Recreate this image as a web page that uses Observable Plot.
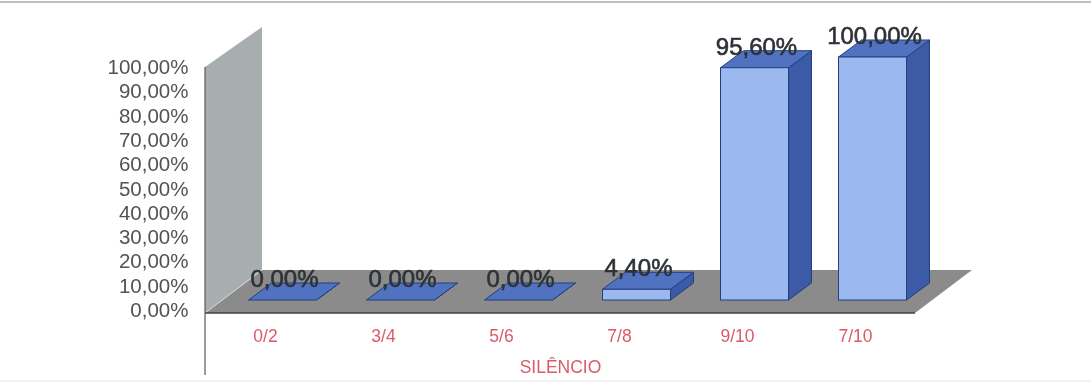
<!DOCTYPE html>
<html>
<head>
<meta charset="utf-8">
<script src="https://cdn.jsdelivr.net/npm/d3@7"></script>
<script src="https://cdn.jsdelivr.net/npm/@observablehq/plot@0.6"></script>
<style>
  html, body { margin: 0; padding: 0; background: #fff; }
  svg { display: block; filter: blur(0.45px); }
</style>
</head>
<body>
<div id="chart"></div>
<script>
const categories = ["0/2", "3/4", "5/6", "7/8", "9/10", "7/10"];
const percentages = [0, 0, 0, 4.4, 95.6, 100];
const yTicks = [0, 10, 20, 30, 40, 50, 60, 70, 80, 90, 100];
const axisTitle = "SILÊNCIO";

const rows = categories.map((category, i) => ({category, value: percentages[i]}));
const pct = (v) => v.toFixed(2).replace(".", ",") + "%";

const style = {
  wall: "#a8adaf", floor: "#8b8b8b", front: "#9bb9ee", top: "#5072c0",
  side: "#3c5aa6", edge: "#22407f", axis: "#5a5a5a", tick: "#dc5a68",
  barShift: 17.5, barDX: 23, barDY: -17,
  wallDX: 57, wallDY: -43, frontDrop: 13
};

function polygon(parent, pts, fill, stroke, width) {
  parent.append("polygon")
    .attr("points", pts.map((p) => p.join(",")).join(" "))
    .attr("fill", fill)
    .attr("stroke", stroke ?? "none")
    .attr("stroke-width", width ?? 1);
}

// Back wall and floor of the 3D box, placed from the y scale and the frame.
function renderBox(index, scales, values, dims) {
  const g = d3.create("svg:g");
  const x0 = dims.marginLeft, x1 = dims.width - dims.marginRight;
  const yTop = scales.y(100), yBase = scales.y(0) + style.frontDrop;
  const {wallDX: dx, wallDY: dy} = style;
  g.append("line").attr("x1", 0).attr("x2", dims.width).attr("y1", 2).attr("y2", 2)
    .attr("stroke", "#a9a9a9").attr("stroke-width", 1.5);
  g.append("line").attr("x1", 0).attr("x2", dims.width).attr("y1", dims.height - 2).attr("y2", dims.height - 2)
    .attr("stroke", "#e6e6e6").attr("stroke-width", 1);
  polygon(g, [[x0, yTop + 10], [x0 + dx, yTop - 30], [x0 + dx, yBase + dy], [x0, yBase]], style.wall);
  polygon(g, [[x0, yBase], [x0 + dx, yBase + dy], [x1 + dx, yBase + dy], [x1, yBase]], style.floor);
  g.append("line").attr("x1", x0).attr("x2", x0 + dx).attr("y1", yBase).attr("y2", yBase + dy)
    .attr("stroke", "#d8dadb").attr("stroke-width", 1);
  g.append("line").attr("x1", x0).attr("x2", x1).attr("y1", yBase).attr("y2", yBase)
    .attr("stroke", "#3f423f").attr("stroke-width", 1.5);
  g.append("line").attr("x1", x0).attr("x2", x0).attr("y1", yTop + 10).attr("y2", yBase + 62)
    .attr("stroke", style.axis).attr("stroke-width", 1.2);
  return g.node();
}

// Side and top faces of each bar, from the same scales as the front face.
function renderFaces(index, scales, values) {
  const g = d3.create("svg:g");
  const {barDX: dx, barDY: dy, barShift: s} = style;
  const w = scales.x.bandwidth();
  for (const i of index) {
    const l = values.x[i] + s, r = l + w;
    const t = Math.min(values.y1[i], values.y2[i]);
    const b = Math.max(values.y1[i], values.y2[i]);
    polygon(g, [[r, t], [r + dx, t + dy], [r + dx, b + dy], [r, b]], style.side, style.edge);
    polygon(g, [[l, t], [l + dx, t + dy], [r + dx, t + dy], [r, t]], style.top, style.edge);
    if (b - t > 0.5) {
      g.append("rect").attr("x", l).attr("y", t).attr("width", r - l).attr("height", b - t)
        .attr("fill", style.front).attr("stroke", style.edge);
    }
  }
  return g.node();
}

const chart = Plot.plot({
  width: 1091,
  height: 383,
  marginLeft: 205,
  marginRight: 176,
  marginTop: 57,
  marginBottom: 83,
  style: {fontFamily: "'Liberation Sans', Arial, sans-serif", background: "transparent", overflow: "visible"},
  x: {domain: categories, paddingInner: 0.425, paddingOuter: 0.2125, label: null},
  y: {domain: [0, 100], label: null},
  marks: [
    Plot.barY(rows.slice(0, 1), {x: "category", y: "value", render: renderBox}),
    Plot.axisY({
      ticks: yTicks, tickFormat: pct, tickSize: 0, tickPadding: 17, dy: 10,
      fontSize: 20.5, fill: "#4f5456", label: null
    }),
    Plot.barY(rows, {x: "category", y: "value", render: renderFaces}),
    Plot.text(rows, {
      x: "category", y: "value", text: (d) => pct(d.value), dx: 19, dy: -21,
      fontSize: 24, fill: "#2e3236", stroke: "#2e3236", strokeWidth: 0.6
    }),
    Plot.axisX({
      tickSize: 0, tickPadding: 29, fontSize: 17.5, fill: style.tick,
      label: axisTitle, labelAnchor: "center", labelArrow: "none", labelOffset: 72
    })
  ]
});
document.getElementById("chart").append(chart);
</script>
</body>
</html>
